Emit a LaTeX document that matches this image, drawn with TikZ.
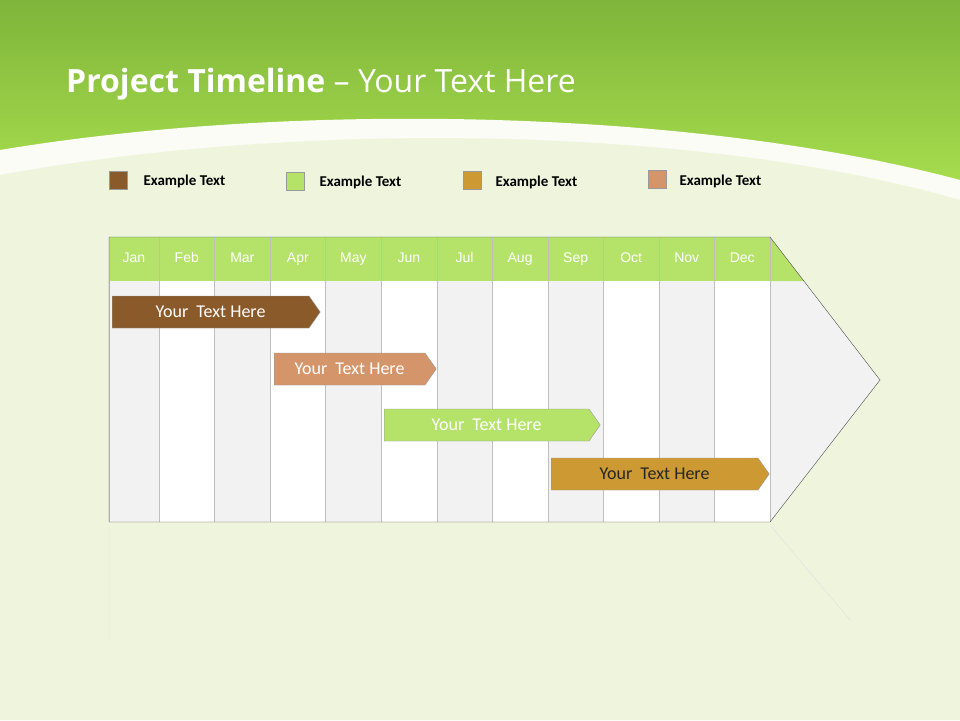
\documentclass[tikz,border=0pt]{standalone}
\usepackage{fontspec}
\setmainfont{Carlito}
\newfontfamily\titlefont{Open Sans}
\newfontfamily\arialf{Liberation Sans}
\usetikzlibrary{shapes.symbols}
\definecolor{brn}{HTML}{8B5A2B}
\definecolor{lgr}{HTML}{B5E36A}
\definecolor{gld}{HTML}{CC9933}
\definecolor{tan}{HTML}{D4956A}
\definecolor{bg}{HTML}{EEF5DC}
\definecolor{topg}{HTML}{7FB53A}
\definecolor{topl}{HTML}{A8DE4E}
\definecolor{colg}{HTML}{F2F2F2}
\tikzset{
 leg/.style={draw=black!40,minimum size=18pt,inner sep=0},
 legt/.style={font=\bfseries\fontsize{15}{17}\selectfont,anchor=west},
 mon/.style={font=\arialf\fontsize{14}{16}\selectfont,text=white,text height=10pt,text depth=3pt},
 bar/.style={signal,signal to=east,signal pointer angle=110,draw=white!60!black,minimum height=32pt,inner sep=0,font=\fontsize{18}{20}\selectfont}
}
\begin{document}
\begin{tikzpicture}[x=1pt,y=-1pt]
\useasboundingbox (0,0) rectangle (960,720);
\fill[bg] (0,0) rectangle (960,720);
\shade[top color=topg,bottom color=topl] (0,0) rectangle (960,190);
\fill[white!70!bg] (0,150) .. controls (300,100) and (700,110) .. (960,180) -- (960,720) -- (0,720) -- cycle;
\fill[bg] (0,175) .. controls (300,120) and (700,125) .. (960,200) -- (960,720) -- (0,720) -- cycle;
\node[anchor=base west,text=white,inner sep=0] (title) at (66,92) {\titlefont\fontsize{32}{36}\selectfont\bfseries Project Timeline \mdseries\textendash{} Your Text Here};
% legend
\node[leg,fill=brn] (l1) at (118,180) {}; \node[legt] (t1) at (140,181) {Example Text};
\node[leg,fill=lgr] (l2) at (295,181) {}; \node[legt] (t2) at (316,182) {Example Text};
\node[leg,fill=gld] (l3) at (472,180) {}; \node[legt] (t3) at (492,182) {Example Text};
\node[leg,fill=tan] (l4) at (657,179) {}; \node[legt] (t4) at (676,181) {Example Text};
% chart
\fill[colg] (770,237) -- (880,380) -- (770,522) -- cycle;
\fill[lgr] (770,237) -- (804,281) -- (770,281) -- cycle;
\foreach \m [count=\i] in {Jan,Feb,Mar,Apr,May,Jun,Jul,Aug,Sep,Oct,Nov,Dec}{
  \ifnum\i=1 \def\xa{109}\else \pgfmathsetmacro\xa{159+(\i-2)*55.55}\fi
  \pgfmathsetmacro\xb{159+(\i-1)*55.55}
  \pgfmathtruncatemacro\odd{mod(\i,2)}
  \ifnum\odd=1 \fill[colg] (\xa,281) rectangle (\xb,522); \else \fill[white] (\xa,281) rectangle (\xb,522); \fi
  \fill[lgr] (\xa,237) rectangle (\xb,281);
  \draw[black!25] (\xa,237) -- (\xa,522);
  \node[mon] (m\i) at ({(\xa+\xb)/2},259) {\m};
}
\draw[black!25] (770,237) -- (770,522);
\draw[black!70] (109,522) -- (109,237) -- (770,237) -- (880,380) -- (770,522) -- cycle;
\draw[black!12] (109,525) -- (109,640) (770,525) -- (850,620);
% bars
\node[bar,fill=brn,text=white,minimum width=208pt,anchor=west] (b1) at (112,312) {Your\ \ Text Here};
\node[bar,fill=tan,text=white,minimum width=162pt,anchor=west] (b2) at (274,369) {Your\ \ Text Here};
\node[bar,fill=lgr,text=white,minimum width=216pt,anchor=west] (b3) at (384,425) {Your\ \ Text Here};
\node[bar,fill=gld,text=black!85,minimum width=218pt,anchor=west] (b4) at (551,474) {Your\ \ Text Here};
\end{tikzpicture}
\end{document}
